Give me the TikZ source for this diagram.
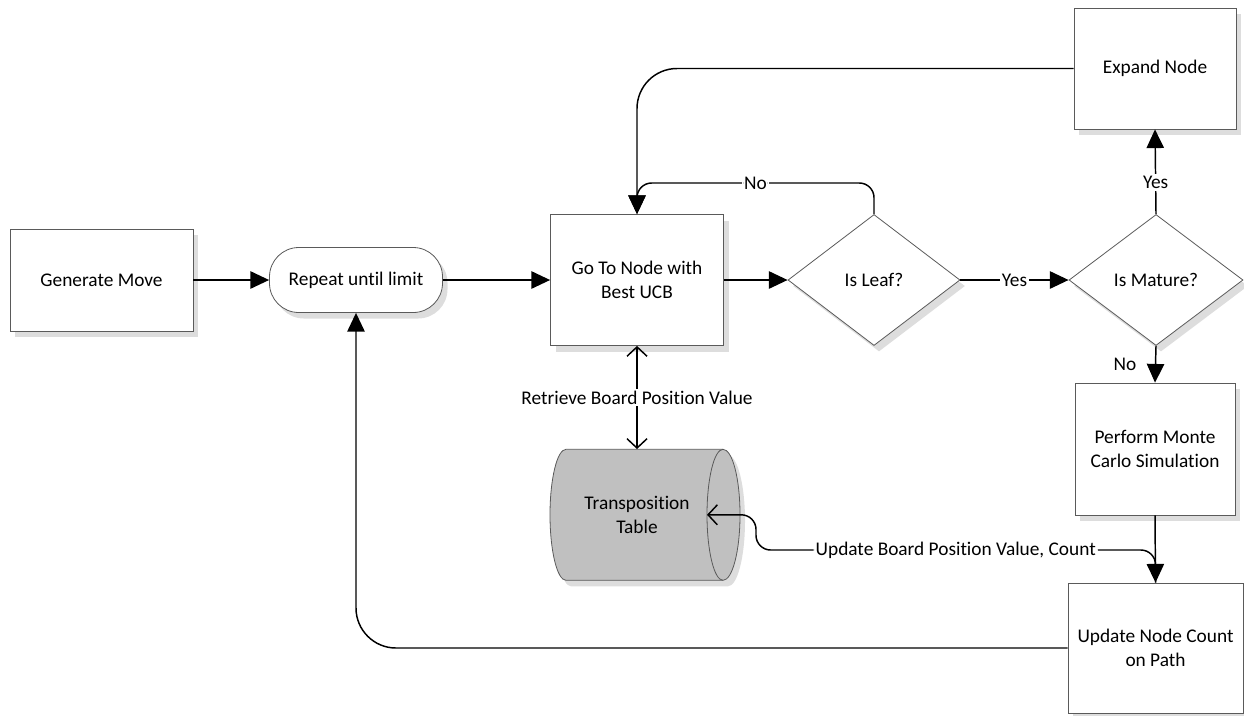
\documentclass[tikz,border=0pt]{standalone}
\usepackage{fontspec}
\setmainfont{Carlito}[Ligatures=NoCommon]
\usetikzlibrary{arrows.meta,shapes.geometric,shapes.misc,shadows}
\definecolor{cylgray}{RGB}{192,192,192}
\definecolor{shadowgray}{RGB}{221,221,221}
\definecolor{edgegray}{RGB}{90,90,90}
\begin{document}
\begin{tikzpicture}[x=0.75pt,y=-0.75pt,
  every node/.style={font=\fontsize{14.5pt}{18pt}\selectfont},
  wh/.style 2 args={minimum width=#1*0.75pt, minimum height=#2*0.75pt},
  shad/.style={drop shadow={shadow xshift=3.75pt, shadow yshift=-4.5pt, fill=shadowgray, opacity=1}},
  proc/.style={rectangle, draw=edgegray, line width=0.6pt, fill=white, align=center, inner sep=1pt, shad},
  term/.style={rectangle, rounded corners=22pt, draw=edgegray, line width=0.6pt, fill=white, align=center, inner sep=1pt, shad},
  decis/.style={diamond, draw=edgegray, line width=0.6pt, fill=white, align=center, inner sep=0pt, shad},
  flow/.style={line width=1.1pt, -{Triangle[length=14pt,width=13pt]}},
  barb/.style={line width=1.1pt, -{Straight Barb[length=7pt,width=15pt]}},
  lbl/.style={fill=white, inner sep=1.5pt}
]
\useasboundingbox (0,0) rectangle (1244,715);

% nodes
\node[proc, wh={183}{102}] (gen) at (101.5,280) {Generate Move};
\node[term, wh={173}{65}] (rep) at (356,280) {Repeat until limit};
\node[proc, wh={173}{131}] (go) at (637,280) {Go To Node with\\Best UCB};
\node[decis, wh={172}{131}] (leaf) at (874,280) {Is Leaf?};
\node[decis, wh={174}{131}] (mature) at (1156,280) {Is Mature?};
\node[proc, wh={162}{121}] (expand) at (1155,68.5) {Expand Node};
\node[proc, wh={160}{132}] (perform) at (1155,449) {Perform Monte\\Carlo Simulation};
\node[proc, wh={175}{130}] (upd) at (1155.5,648) {Update Node Count\\on Path};

% transposition table (cylinder)
\fill[shadowgray] (571,455.3) -- (728,455.3) arc[start angle=-90, end angle=90, x radius=17, y radius=65.5]
   -- (571,586.3) arc[start angle=90, end angle=270, x radius=16, y radius=65.5] -- cycle;
\path[draw=edgegray, fill=cylgray, line width=0.6pt] (566,449.3) -- (723,449.3)
   arc[start angle=-90, end angle=90, x radius=17, y radius=65.5]
   -- (566,580.3) arc[start angle=90, end angle=270, x radius=16, y radius=65.5] -- cycle;
\draw[edgegray, line width=0.6pt] (723,449.3) arc[start angle=-90, end angle=-270, x radius=16, y radius=65.5];
\node[align=center, minimum height=131*0.75pt, inner sep=0pt] (tt) at (637,514.8) {Transposition\\Table};
\coordinate (ttin) at (707,514.8);

% connectors
\draw[flow] (gen) -- (rep);
\draw[flow] (rep) -- (go);
\draw[flow] (go) -- (leaf);
\draw[flow] (leaf) -- node[lbl]{Yes} (mature);
\draw[flow, rounded corners=11pt] (leaf.north) -- (874,183) -- node[lbl]{No} (637,183) -- (go.north);
\draw[flow, rounded corners=30pt] (expand.west) -| (go.north);
\draw[flow] (mature.north) -- node[lbl, pos=0.37]{Yes} (expand.south);
\draw[flow] (mature.south) -- node[xshift=-23pt]{No} (perform.north);
\draw[flow] (perform.south) -- (upd.north);
\draw[barb, rounded corners=11pt] (upd.north) -- (1155.5,550) -- node[lbl]{Update Board Position Value, Count} (756,550) -- (756,514.8) -- (ttin);
\draw[line width=1.1pt, {Straight Barb[length=7pt,width=15pt]}-{Straight Barb[length=7pt,width=15pt]}] (go.south) -- node[lbl]{Retrieve Board Position Value} (tt.north);
\draw[flow, rounded corners=30pt] (upd.west) -| (rep.south);
\end{tikzpicture}
\end{document}
